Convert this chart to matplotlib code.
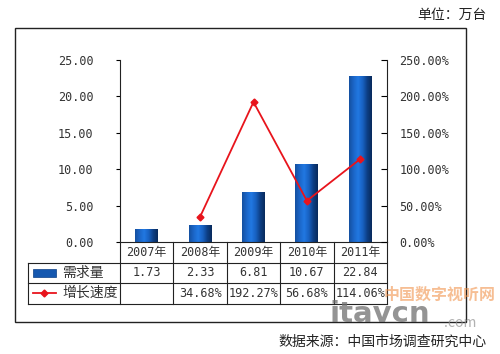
import matplotlib
matplotlib.use("Agg")
import matplotlib.pyplot as plt
import numpy as np
from matplotlib.colors import LinearSegmentedColormap
from matplotlib.patches import Rectangle
from matplotlib.lines import Line2D
from matplotlib.transforms import blended_transform_factory

plt.rcParams['font.family'] = ['Noto Sans CJK SC', 'DejaVu Sans']

years = ['2007年', '2008年', '2009年', '2010年', '2011年']
demand = [1.73, 2.33, 6.81, 10.67, 22.84]
growth = [None, 34.68, 192.27, 56.68, 114.06]
left_ticks = [0, 5, 10, 15, 20, 25]
right_ticks = [0, 50, 100, 150, 200, 250]
series_names = ['需求量', '增长速度']

W, H = 500, 354
fig = plt.figure(figsize=(W / 100, H / 100), dpi=100)
fig.patch.set_facecolor('white')

def fx(px):
    return px / W

def fy(py):
    return 1 - py / H

# outer frame
fig.add_artist(Rectangle((fx(15), fy(322)), fx(466) - fx(15), fy(28) - fy(322),
                         transform=fig.transFigure, fill=False, edgecolor='#222222', lw=1.0))

ax = fig.add_axes([fx(120), fy(242), fx(387) - fx(120), fy(60) - fy(242)])
ax2 = ax.twinx()
n = len(years)
x = np.arange(n)
ax.set_xlim(-0.5, n - 0.5)
ax.set_ylim(0, 25)
ax2.set_ylim(0, 250)

numfont = dict(family=['DejaVu Sans Mono'], size=8.5, color='#333333')

ax.set_yticks(left_ticks)
ax.set_yticklabels(['%.2f' % v for v in left_ticks], **numfont)
ax2.set_yticks(right_ticks)
ax2.set_yticklabels(['%.2f%%' % v for v in right_ticks], **numfont)
ax.set_xticks([])
for a in (ax, ax2):
    for s in ('top', 'bottom'):
        a.spines[s].set_visible(False)
    a.spines['left'].set_color('#222222')
    a.spines['right'].set_color('#222222')
    a.spines['left'].set_linewidth(0.8)
    a.spines['right'].set_linewidth(0.8)
ax.spines['right'].set_visible(False)
ax2.spines['left'].set_visible(False)
ax.tick_params(axis='y', direction='out', length=3, width=0.8, pad=16)
ax2.tick_params(axis='y', direction='in', length=4, width=0.8, pad=9)

# gradient bars
cmap = LinearSegmentedColormap.from_list('cyl', ['#1450a0', '#1b66c8', '#2178e2', '#1862c2', '#0d3f85', '#082a5c'])
grad = np.linspace(0, 1, 64).reshape(1, -1)
bw = 0.43
bars = ax.bar(x, demand, width=bw, color='none', edgecolor='none', zorder=2)
for b in bars:
    x0, y0, w, h = b.get_x(), b.get_y(), b.get_width(), b.get_height()
    im = ax.imshow(grad, cmap=cmap, extent=(x0, x0 + w, y0, y0 + h), aspect='auto', zorder=2)
    im.set_clip_path(b)
ax.set_xlim(-0.5, n - 0.5)
ax.set_ylim(0, 25)

# line
gx = [i for i, g in enumerate(growth) if g is not None]
gy = [g for g in growth if g is not None]
ax2.plot(gx, gy, color='#e8141c', lw=1.3, marker='D', markersize=3.5, zorder=3)

# table below axes
tr = blended_transform_factory(ax.transData, ax.transAxes)
rowh = 20.5 / 182
y_head = 0
y_r1 = -rowh
y_r2 = -2 * rowh
y_r3 = -3 * rowh
x_left = -0.5 - (120 - 28) / 267 * n
x_right = n - 0.5
lc = '#222222'
lw = 0.8
def hline(y, x0, x1):
    ax.add_line(Line2D([x0, x1], [y, y], transform=tr, color=lc, lw=lw, clip_on=False))
def vline(xx, y0, y1):
    ax.add_line(Line2D([xx, xx], [y0, y1], transform=tr, color=lc, lw=lw, clip_on=False))
hline(y_head, -0.5, x_right)
hline(y_r1, x_left, x_right)
hline(y_r2, x_left, x_right)
hline(y_r3, x_left, x_right)
for i in range(n + 1):
    vline(i - 0.5, y_head, y_r3)
vline(x_left, y_r1, y_r3)

for i in range(n):
    ax.text(i, (y_head + y_r1) / 2, years[i], transform=tr, ha='center', va='center',
            fontsize=8.5, color='#333333', family=['DejaVu Sans Mono', 'Noto Sans CJK SC'])
    ax.text(i, (y_r1 + y_r2) / 2, '%.2f' % demand[i], transform=tr, ha='center', va='center', **numfont)
    if growth[i] is not None:
        ax.text(i, (y_r2 + y_r3) / 2, '%.2f%%' % growth[i], transform=tr, ha='center', va='center', **numfont)

# legend keys in table
u = n / 267  # data units per pixel
kx0 = x_left + 5 * u
kx1 = x_left + 28 * u
ax.add_patch(Rectangle((kx0, (y_r1 + y_r2) / 2 - 0.022), kx1 - kx0, 0.044, transform=tr,
                       clip_on=False, facecolor='#1558b0', edgecolor='#0b3f86', lw=0.5))
ax.add_line(Line2D([kx0, kx1], [(y_r2 + y_r3) / 2] * 2, transform=tr, color='#e8141c', lw=1.3, clip_on=False))
ax.add_line(Line2D([(kx0 + kx1) / 2], [(y_r2 + y_r3) / 2], transform=tr, color='#e8141c', marker='D',
                   markersize=3.5, clip_on=False))
ax.text(x_left + 34 * u, (y_r1 + y_r2) / 2, series_names[0], transform=tr, ha='left', va='center',
        fontsize=10, color='#333333')
ax.text(x_left + 34 * u, (y_r2 + y_r3) / 2, series_names[1], transform=tr, ha='left', va='center',
        fontsize=10, color='#333333')

# header / footer text
fig.text(fx(487), fy(15), '单位：万台', ha='right', va='center', fontsize=10, color='#222222')
fig.text(fx(487), fy(342), '数据来源：中国市场调查研究中心', ha='right', va='center', fontsize=10, color='#222222')

# watermark
fig.text(fx(440), fy(295), '中国数字视听网', ha='center', va='center', fontsize=11.5, color='#f08a3c',
         alpha=0.55, weight='bold', style='italic')
fig.text(fx(330), fy(314), 'itavcn', ha='left', va='center', fontsize=21, color='#707070',
         alpha=0.75, weight='bold', family=['DejaVu Sans'])
fig.text(fx(444), fy(323), '.com', ha='left', va='center', fontsize=10, color='#909090', alpha=0.7)

fig.savefig('out.png', dpi=100)
